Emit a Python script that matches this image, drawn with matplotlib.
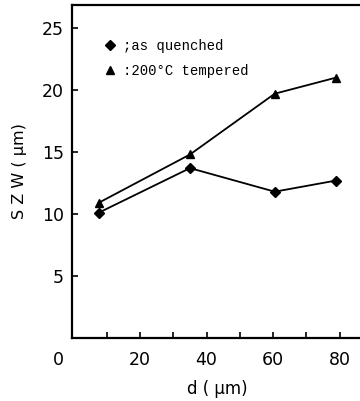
import numpy as np
import matplotlib.pyplot as plt
from matplotlib.transforms import ScaledTranslation

# data
d_um = [7.5, 35, 60.5, 79]
szw_quenched = [10.1, 13.7, 11.8, 12.7]
szw_tempered = [10.9, 14.8, 19.7, 21.0]

x_ticks = [0, 20, 40, 60, 80]
y_ticks = [5, 10, 15, 20, 25]

fig = plt.figure(figsize=(3.6, 4.01), dpi=100)
ax = fig.add_axes([0.2, 0.157, 0.806, 0.8305])

ax.plot(d_um, szw_quenched, color="black", lw=1.3, marker="D", ms=5,
        label=";as quenched")
ax.plot(d_um, szw_tempered, color="black", lw=1.3, marker="^", ms=6,
        label=":200°C tempered")

ax.set_xlim(-0.5, 86.8)
ax.set_ylim(0, 26.85)
ax.set_xticks(x_ticks)
ax.set_xticks(np.arange(10, 90, 20), minor=True)
ax.set_yticks(y_ticks)
ax.tick_params(which="both", direction="in", length=4, width=1.2,
               labelsize=12.5, pad=9)
ax.tick_params(axis="y", pad=6)

# the origin label sits left of the axis in the original, with no tick mark
ax.xaxis.get_major_ticks()[0].tick1line.set_visible(False)
lbl0 = ax.get_xticklabels()[0]
lbl0.set_transform(lbl0.get_transform() + ScaledTranslation(-0.15, 0, fig.dpi_scale_trans))

for s in ["left", "bottom", "top"]:
    ax.spines[s].set_linewidth(1.6)
ax.spines["right"].set_visible(False)

ax.set_xlabel("d ( μm)", fontsize=12, labelpad=8)
ax.set_ylabel("S Z W ( μm)", fontsize=11.5)
ax.yaxis.set_label_coords(-0.155, 0.5)

leg = ax.legend(loc="upper left", bbox_to_anchor=(0.075, 0.935), frameon=False,
                handlelength=0.6, handletextpad=0.6, labelspacing=0.75,
                prop={"family": "Liberation Mono", "size": 10})
for h in leg.legend_handles:
    h.set_linestyle("none")

fig.savefig("out.png", dpi=100)
